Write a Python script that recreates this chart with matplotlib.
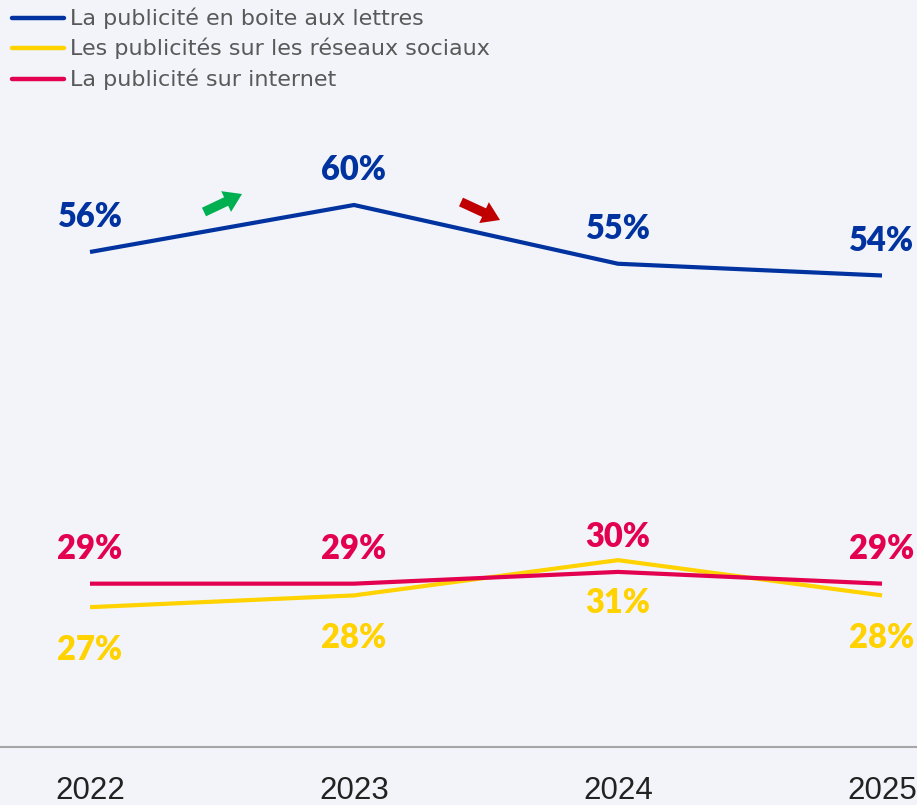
#!/usr/bin/env python3
"""Advertising channels line chart, 2022-2025."""

import matplotlib
matplotlib.use("Agg")
import matplotlib.pyplot as plt
from matplotlib.lines import Line2D

YEARS = [2022, 2023, 2024, 2025]
SERIES_NAMES = [
    "La publicité en boite aux lettres",
    "Les publicités sur les réseaux sociaux",
    "La publicité sur internet",
]
BOITE = [56, 60, 55, 54]
RESEAUX = [27, 28, 31, 28]
INTERNET = [29, 29, 30, 29]

BG = "#F2F4F9"
BLUE = "#0033A0"
YELLOW = "#FFD200"
RED = "#E2004F"
W, H = 917, 805


def main():
    fig = plt.figure(figsize=(W / 100, H / 100), dpi=100, facecolor=BG)
    ax = fig.add_axes([0, 58 / H, 1, 647 / H])
    ax.set_facecolor(BG)
    # second scale for the two lower series (they sit slightly lower in the source)
    ax2 = ax.twinx()

    x0 = 2022 - 90 / 264
    x1 = 2025 + 35 / 264
    ax.set_xlim(x0, x1)
    ax.set_ylim(13.872, 68.936)
    ax2.set_ylim(15.1, 70.16)

    ax.plot(YEARS, BOITE, color=BLUE, lw=3, solid_capstyle="butt", zorder=3)
    ax2.plot(YEARS, RESEAUX, color=YELLOW, lw=3, solid_capstyle="butt", zorder=3)
    ax2.plot(YEARS, INTERNET, color=RED, lw=3, solid_capstyle="butt", zorder=4)

    lab = dict(ha="center", va="center", fontsize=23.5, fontweight="heavy",
               family=["Lato", "DejaVu Sans"], textcoords="offset points")
    for yr, v in zip(YEARS, BOITE):
        ax.annotate("{}%".format(v), (yr, v), xytext=(0, 25), color=BLUE, **lab)
    for yr, v in zip(YEARS, INTERNET):
        ax2.annotate("{}%".format(v), (yr, v), xytext=(0, 25), color=RED, **lab)
    for yr, v in zip(YEARS, RESEAUX):
        ax2.annotate("{}%".format(v), (yr, v), xytext=(0, -31), color=YELLOW, **lab)

    for a in (ax, ax2):
        for side in ("top", "left", "right"):
            a.spines[side].set_visible(False)
        a.set_yticks([])
    ax2.spines["bottom"].set_visible(False)
    ax.spines["bottom"].set_color("#A6A6A6")
    ax.spines["bottom"].set_linewidth(1.5)
    ax.set_xticks(YEARS)
    ax.set_xticklabels([str(y) for y in YEARS], fontsize=22.5,
                       family=["Liberation Sans", "DejaVu Sans"], color="#222222")
    ax.tick_params(axis="x", length=0, pad=21)

    # trend arrows
    arrow = "simple,head_length=1.15,head_width=1.5,tail_width=0.62"
    ax.annotate("", xy=(242, H - 194), xytext=(204, H - 212), xycoords="figure pixels",
                textcoords="figure pixels",
                arrowprops=dict(arrowstyle=arrow, mutation_scale=11, color="#00B050",
                                shrinkA=0, shrinkB=0, lw=0))
    ax.annotate("", xy=(500, H - 220), xytext=(461, H - 202), xycoords="figure pixels",
                textcoords="figure pixels",
                arrowprops=dict(arrowstyle=arrow, mutation_scale=11, color="#C00000",
                                shrinkA=0, shrinkB=0, lw=0))

    # legend
    for name, color, ypx in zip(SERIES_NAMES, [BLUE, YELLOW, RED], [18, 48, 79]):
        yf = 1 - ypx / H
        fig.add_artist(Line2D([12 / W, 64 / W], [yf, yf], transform=fig.transFigure,
                              color=color, lw=3.2, solid_capstyle="round"))
        fig.text(70 / W, yf, name, ha="left", va="center", fontsize=16,
                 color="#595959", family=["DejaVu Sans"])

    fig.savefig("out.png", dpi=100, facecolor=BG)


if __name__ == "__main__":
    main()
